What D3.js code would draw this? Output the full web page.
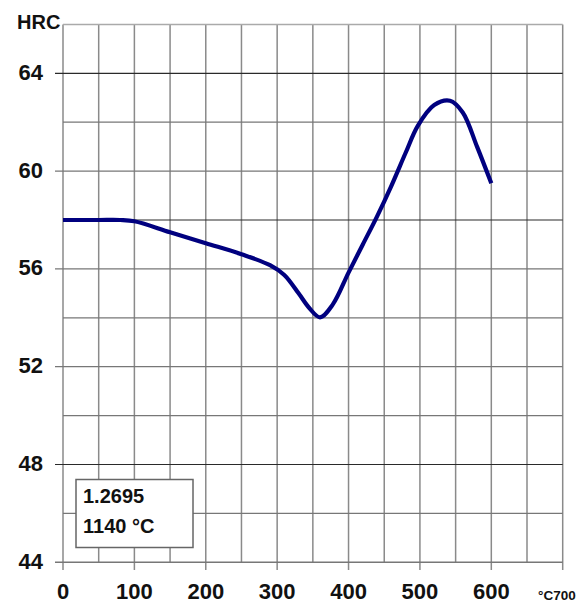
<!DOCTYPE html>
<html><head><meta charset="utf-8">
<script src="https://cdn.jsdelivr.net/npm/d3@7"></script>
<style>body{margin:0;background:#fff}svg{display:block}text{font-family:"Liberation Sans",Arial,sans-serif;font-weight:bold;fill:#111}</style>
</head><body><svg id="c" width="582" height="604"></svg>
<script>
const temps = [0, 50, 80, 100, 150, 200, 250, 290, 310, 330, 345, 360, 378, 400, 420, 440, 460, 480, 497, 520, 542, 560, 580, 600];
const hrc   = [58.0, 58.0, 58.0, 57.95, 57.5, 57.05, 56.6, 56.15, 55.75, 55.0, 54.4, 54.02, 54.55, 55.85, 57.0, 58.15, 59.4, 60.75, 61.85, 62.7, 62.88, 62.4, 61.0, 59.5];
const xTicks = [0, 100, 200, 300, 400, 500, 600];
const yTicks = [44, 48, 52, 56, 60, 64];
const xGrid = d3.range(0, 701, 50);
const yGrid = d3.range(44, 65, 2);
const darkLines = [64, 58, 48];
const legendLines = ["1.2695", "1140 °C"];

const svg = d3.select("#c");
const x = d3.scaleLinear().domain([0, 700]).range([63, 562.7]);
const y = d3.scaleLinear().domain([44, 66]).range([562.3, 24.4]);

// vertical grid
svg.append("g").selectAll("line").data(xGrid).join("line")
  .attr("x1", d => x(d)).attr("x2", d => x(d))
  .attr("y1", y(66)).attr("y2", d => d % 100 === 0 ? 570 : y(44))
  .attr("stroke", "#8a8a8a").attr("stroke-width", 1.5);
// top border
svg.append("line").attr("x1", x(0)).attr("x2", x(700)).attr("y1", y(66)).attr("y2", y(66))
  .attr("stroke", "#aaa").attr("stroke-width", 1.5);
// horizontal grid
svg.append("g").selectAll("line").data(yGrid).join("line")
  .attr("x1", d => d % 4 === 0 ? 55 : x(0)).attr("x2", x(700))
  .attr("y1", d => y(d)).attr("y2", d => y(d))
  .attr("stroke", d => darkLines.includes(d) ? "#2a2a2a" : "#777")
  .attr("stroke-width", d => d === 44 ? 1.5 : 1.2);

// curve
const line = d3.line().x((d, i) => x(temps[i])).y(d => y(d)).curve(d3.curveCatmullRom.alpha(0.5));
svg.append("path").datum(hrc).attr("d", line)
  .attr("fill", "none").attr("stroke", "#00007f").attr("stroke-width", 4.2)
  .attr("stroke-linejoin", "round").attr("stroke-linecap", "butt");

// legend box
svg.append("rect").attr("x", 76).attr("y", 479.5).attr("width", 117).attr("height", 68)
  .attr("fill", "#fff").attr("stroke", "#666").attr("stroke-width", 1.5);
svg.append("g").selectAll("text").data(legendLines).join("text")
  .attr("x", 83).attr("y", (d, i) => 502.5 + i * 30.5)
  .attr("font-size", 20).text(d => d);

// y labels
svg.append("g").selectAll("text").data(yTicks).join("text")
  .attr("x", 43).attr("y", d => y(d) + 6.5).attr("text-anchor", "end")
  .attr("font-size", 22).text(d => d);
svg.append("text").attr("x", 17).attr("y", 29).attr("font-size", 20).text("HRC");

// x labels
svg.append("g").selectAll("text").data(xTicks).join("text")
  .attr("x", d => x(d)).attr("y", 599).attr("text-anchor", "middle")
  .attr("font-size", 22).text(d => d);
svg.append("text").attr("x", 538).attr("y", 600).attr("font-size", 13.5).text("°C700");
</script></body></html>
